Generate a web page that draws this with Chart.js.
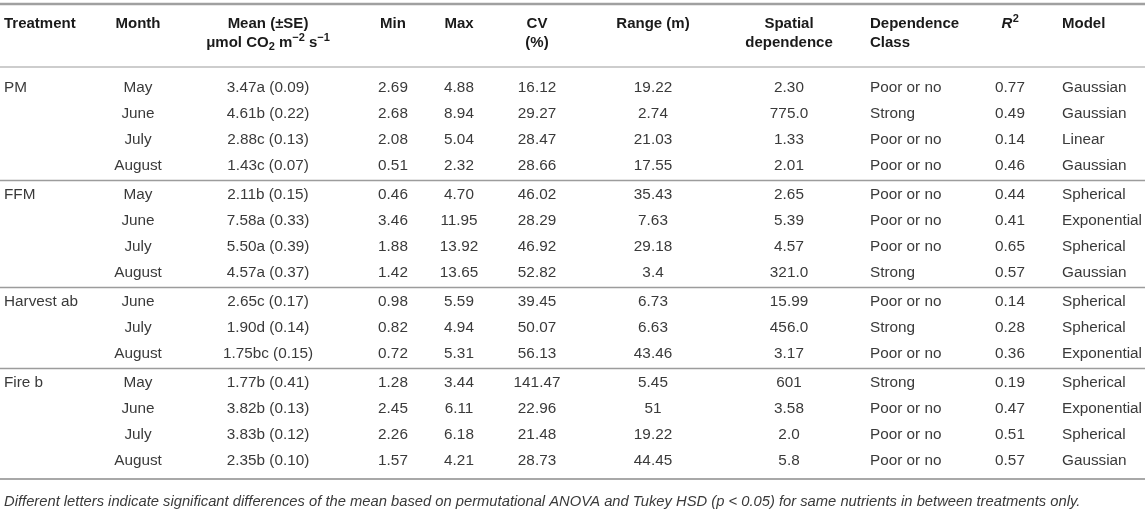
<!DOCTYPE html>
<html>
<head>
<meta charset="utf-8">
<script src="https://cdn.jsdelivr.net/npm/chart.js@4.4.1/dist/chart.umd.min.js"></script>
<style>
html,body{margin:0;padding:0;background:#fff;}
#wrap{width:1145px;height:518px;position:relative;}
</style>
</head>
<body>
<div id="wrap"><canvas id="c" width="1145" height="518"></canvas></div>
<script>
// ---- DATA ----
const treatments = ["PM", "FFM", "Harvest ab", "Fire b"];
const groupSizes = [4, 4, 3, 4];
const months = ["May","June","July","August","May","June","July","August","June","July","August","May","June","July","August"];
const meanValues = [3.47,4.61,2.88,1.43,2.11,7.58,5.50,4.57,2.65,1.90,1.75,1.77,3.82,3.83,2.35];
const meanLetters = ["a","b","c","c","b","a","a","a","c","d","bc","b","b","b","b"];
const meanSE = [0.09,0.22,0.13,0.07,0.15,0.33,0.39,0.37,0.17,0.14,0.15,0.41,0.13,0.12,0.10];
const minValues = [2.69,2.68,2.08,0.51,0.46,3.46,1.88,1.42,0.98,0.82,0.72,1.28,2.45,2.26,1.57];
const maxValues = [4.88,8.94,5.04,2.32,4.70,11.95,13.92,13.65,5.59,4.94,5.31,3.44,6.11,6.18,4.21];
const cvValues = [16.12,29.27,28.47,28.66,46.02,28.29,46.92,52.82,39.45,50.07,56.13,141.47,22.96,21.48,28.73];
const rangeValues = ["19.22","2.74","21.03","17.55","35.43","7.63","29.18","3.4","6.73","6.63","43.46","5.45","51","19.22","44.45"];
const spatialValues = ["2.30","775.0","1.33","2.01","2.65","5.39","4.57","321.0","15.99","456.0","3.17","601","3.58","2.0","5.8"];
const depClasses = ["Poor or no","Strong","Poor or no","Poor or no","Poor or no","Poor or no","Poor or no","Strong","Poor or no","Strong","Poor or no","Strong","Poor or no","Poor or no","Poor or no"];
const r2Values = [0.77,0.49,0.14,0.46,0.44,0.41,0.65,0.57,0.14,0.28,0.36,0.19,0.47,0.51,0.57];
const models = ["Gaussian","Gaussian","Linear","Gaussian","Spherical","Exponential","Spherical","Gaussian","Spherical","Spherical","Exponential","Spherical","Exponential","Spherical","Gaussian"];
const footnote = "Different letters indicate significant differences of the mean based on permutational ANOVA and Tukey HSD (p < 0.05) for same nutrients in between treatments only.";

// ---- LAYOUT (positions in scale units) ----
const colX = {treat:4, month:138, mean:268, min:393, max:459, cv:537, range:653, spatial:789, dep:870, r2:1010, model:1062};
const L = {topRule:4, head1:24, head2:43, headRule:67, firstRow:88, rowStep:26, groupStep:29, left:0, right:1145};
const FONT = '"Liberation Sans", Arial, sans-serif';
const TXT = '#3a3a3a', HEAD = '#1a1a1a';

function rowYs(){
  const ys = []; let y = L.firstRow; const seps = [];
  groupSizes.forEach((n,g)=>{
    for(let i=0;i<n;i++){ ys.push(y); if(i<n-1) y += L.rowStep; }
    if(g<groupSizes.length-1){ seps.push(y + L.groupStep/2); y += L.groupStep; }
  });
  return {ys, seps, last:y};
}

const tablePlugin = {
  id:'tableDraw',
  afterDraw(chart){
    const ctx = chart.ctx, sx = chart.scales.x, sy = chart.scales.y;
    const X = v=>sx.getPixelForValue(v), Y = v=>sy.getPixelForValue(v);
    const {ys, seps, last} = rowYs();
    ctx.save();
    ctx.textBaseline = 'middle';
    function line(y, w, col){ ctx.beginPath(); ctx.strokeStyle = col; ctx.lineWidth = w; ctx.moveTo(X(L.left), Y(y)); ctx.lineTo(X(L.right), Y(y)); ctx.stroke(); }
    function txt(s, x, y, align, font, col){ ctx.font = font; ctx.fillStyle = col; ctx.textAlign = align; ctx.fillText(s, X(x), Y(y)); }
    // rules
    line(L.topRule, 2.4, '#a0a0a0');
    line(L.headRule, 1.6, '#bdbdbd');
    seps.forEach(s=>line(s, 1.6, '#9c9c9c'));
    const bottom = last + 18;
    line(bottom, 2.2, '#a8a8a8');
    // header
    const HS = 15, SS = 11;
    const HB = 'bold ' + HS + 'px ' + FONT, SB = 'bold ' + SS + 'px ' + FONT;
    txt('Treatment', colX.treat, L.head1, 'left', HB, HEAD);
    txt('Month', colX.month, L.head1, 'center', HB, HEAD);
    txt('Mean (\u00B1SE)', colX.mean, L.head1, 'center', HB, HEAD);
    const runs = [
      {t:'\u03BCmol CO', f:HB, dy:0},
      {t:'2', f:SB, dy:4},
      {t:' m', f:HB, dy:0},
      {t:'\u22122', f:SB, dy:-5},
      {t:' s', f:HB, dy:0},
      {t:'\u22121', f:SB, dy:-5}
    ];
    let tw = 0; runs.forEach(r=>{ctx.font=r.f; tw += ctx.measureText(r.t).width;});
    let cx = X(colX.mean) - tw/2;
    runs.forEach(r=>{ctx.font=r.f; ctx.fillStyle=HEAD; ctx.textAlign='left'; ctx.fillText(r.t, cx, Y(L.head2)+r.dy); cx += ctx.measureText(r.t).width;});
    txt('Min', colX.min, L.head1, 'center', HB, HEAD);
    txt('Max', colX.max, L.head1, 'center', HB, HEAD);
    txt('CV', colX.cv, L.head1, 'center', HB, HEAD);
    txt('(%)', colX.cv, L.head2, 'center', HB, HEAD);
    txt('Range (m)', colX.range, L.head1, 'center', HB, HEAD);
    txt('Spatial', colX.spatial, L.head1, 'center', HB, HEAD);
    txt('dependence', colX.spatial, L.head2, 'center', HB, HEAD);
    txt('Dependence', colX.dep, L.head1, 'left', HB, HEAD);
    txt('Class', colX.dep, L.head2, 'left', HB, HEAD);
    // R^2
    const RI = 'italic bold ' + HS + 'px ' + FONT;
    ctx.font = RI; const rw = ctx.measureText('R').width;
    ctx.font = SB; const sw = ctx.measureText('2').width;
    const rx = X(colX.r2) - (rw+sw)/2;
    ctx.textAlign='left'; ctx.fillStyle=HEAD;
    ctx.font = RI; ctx.fillText('R', rx, Y(L.head1));
    ctx.font = SB; ctx.fillText('2', rx+rw+0.5, Y(L.head1)-5);
    txt('Model', colX.model, L.head1, 'left', HB, HEAD);
    // body
    const BF = '15.3px ' + FONT;
    let idx = 0;
    groupSizes.forEach((n,g)=>{ txt(treatments[g], colX.treat, ys[idx], 'left', BF, TXT); idx += n; });
    ys.forEach((y,i)=>{
      txt(months[i], colX.month, y, 'center', BF, TXT);
      txt(meanValues[i].toFixed(2) + meanLetters[i] + ' (' + meanSE[i].toFixed(2) + ')', colX.mean, y, 'center', BF, TXT);
      txt(minValues[i].toFixed(2), colX.min, y, 'center', BF, TXT);
      txt(maxValues[i].toFixed(2), colX.max, y, 'center', BF, TXT);
      txt(cvValues[i].toFixed(2), colX.cv, y, 'center', BF, TXT);
      txt(rangeValues[i], colX.range, y, 'center', BF, TXT);
      txt(spatialValues[i], colX.spatial, y, 'center', BF, TXT);
      txt(depClasses[i], colX.dep, y, 'left', BF, TXT);
      txt(r2Values[i].toFixed(2), colX.r2, y, 'center', BF, TXT);
      txt(models[i], colX.model, y, 'left', BF, TXT);
    });
    txt(footnote, colX.treat, bottom + 23, 'left', 'italic 14.75px ' + FONT, '#3a3a3a');
    ctx.restore();
  }
};

new Chart(document.getElementById('c'), {
  type: 'scatter',
  data: { datasets: [{ data: [], pointRadius: 0 }] },
  options: {
    responsive: false,
    animation: false,
    events: [],
    layout: { padding: 0 },
    plugins: { legend: { display: false }, tooltip: { enabled: false } },
    scales: {
      x: { type: 'linear', min: 0, max: 1145, display: false },
      y: { type: 'linear', min: 0, max: 518, reverse: true, display: false }
    }
  },
  plugins: [tablePlugin]
});
</script>
</body>
</html>
